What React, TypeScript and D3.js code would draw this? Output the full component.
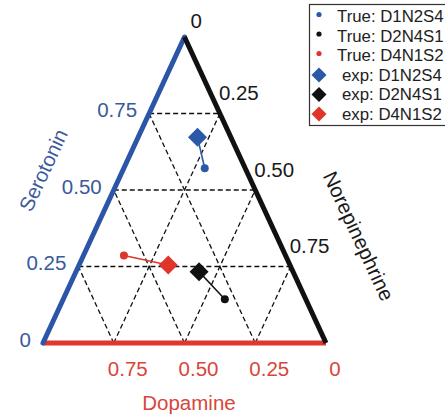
import React from "react";
import * as d3 from "d3";

// ---------- data ----------
const seriesNames = ["D1N2S4", "D2N4S1", "D4N1S2"];
const seriesColors = ["#2b59a8", "#111111", "#e0352b"];
// true compositions (serotonin, norepinephrine); dopamine = 1 - S - N
const trueS = [0.571, 0.143, 0.286];
const trueN = [0.286, 0.571, 0.143];
// experimental estimates
const expS = [0.672, 0.233, 0.255];
const expN = [0.21, 0.435, 0.315];

const gridValues = [0.25, 0.5, 0.75];
const sTicks = [0.75, 0.5, 0.25, 0];
const sTickLabels = ["0.75", "0.50", "0.25", "0"];
const nTicks = [0, 0.25, 0.5, 0.75];
const nTickLabels = ["0", "0.25", "0.50", "0.75"];
const dTicks = [0.75, 0.5, 0.25, 0];
const dTickLabels = ["0.75", "0.50", "0.25", "0"];

const FONT = "'Liberation Sans', Arial, Helvetica, sans-serif";

export default function App() {
  const W = 445, H = 414;
  // scales: vertical for serotonin, horizontal for (N + S/2)
  const yS = d3.scaleLinear().domain([0, 1]).range([343, 37]);
  const xB = d3.scaleLinear().domain([0, 1]).range([43, 326]);
  const px = (s: number, n: number) => xB(n + s / 2);
  const py = (s: number) => yS(s);

  const blue = "#2b55a6";
  const blueText = "#3a5a9c";
  const red = "#e0362c";
  const redText = "#d8463a";
  const FS = 20.5;

  const grid: { x1: number; y1: number; x2: number; y2: number }[] = [];
  gridValues.forEach((v) => {
    grid.push({ x1: px(v, 0), y1: py(v), x2: px(v, 1 - v), y2: py(v) });
    grid.push({ x1: px(0, v), y1: py(0), x2: px(1 - v, v), y2: py(1 - v) });
    grid.push({ x1: px(0, 1 - v), y1: py(0), x2: px(1 - v, 0), y2: py(1 - v) });
  });

  const diamond = (cx: number, cy: number, r: number) =>
    `M${cx},${cy - r}L${cx + r},${cy}L${cx},${cy + r}L${cx - r},${cy}Z`;

  const legendRows = [
    ...seriesNames.map((n, i) => ({ kind: "dot", label: `True: ${n}`, color: seriesColors[i] })),
    ...seriesNames.map((n, i) => ({ kind: "dia", label: `exp: ${n}`, color: seriesColors[i] })),
  ];

  return (
    <svg
      width={W}
      height={H}
      style={{ position: "absolute", left: 0, top: 0, background: "#fff" }}
      fontFamily={FONT}
    >
      <rect x={0} y={0} width={W} height={H} fill="#fff" />
      {grid.map((g, i) => (
        <line key={i} {...g} stroke="#111" strokeWidth={1.3} strokeDasharray="5,3" />
      ))}
      <line x1={px(0, 0)} y1={py(0)} x2={px(0, 1)} y2={py(0)} stroke={red} strokeWidth={5} />
      <line x1={px(0, 0)} y1={py(0)} x2={px(1, 0)} y2={py(1)} stroke={blue} strokeWidth={5} strokeLinecap="round" />
      <line x1={px(1, 0)} y1={py(1)} x2={px(0, 1)} y2={py(0)} stroke="#111" strokeWidth={5} />

      {sTicks.map((s, i) => (
        <text
          key={"s" + i}
          x={px(s, 0) - 12}
          y={py(s) - 4}
          textAnchor="end"
          dominantBaseline="central"
          fontSize={FS}
          fill={blueText}
        >
          {sTickLabels[i]}
        </text>
      ))}
      {nTicks.map((n, i) => (
        <text
          key={"n" + i}
          x={px(1 - n, n) + (i === 0 ? 6 : -1)}
          y={py(1 - n) - (i === 0 ? 17 : 21)}
          textAnchor="start"
          dominantBaseline="central"
          fontSize={FS}
          fill="#1a1a1a"
        >
          {nTickLabels[i]}
        </text>
      ))}
      {dTicks.map((d, i) => (
        <text
          key={"d" + i}
          x={px(0, 1 - d) + (i === 3 ? 9 : 14)}
          y={368}
          textAnchor="middle"
          dominantBaseline="central"
          fontSize={FS}
          fill={redText}
        >
          {dTickLabels[i]}
        </text>
      ))}

      <text
        x={0}
        y={0}
        transform={`translate(43,170) rotate(-65)`}
        textAnchor="middle"
        dominantBaseline="central"
        fontSize={FS}
        fill={blueText}
      >
        Serotonin
      </text>
      <text
        x={0}
        y={0}
        transform={`translate(359,236) rotate(65)`}
        textAnchor="middle"
        dominantBaseline="central"
        fontSize={FS}
        fill="#1a1a1a"
      >
        Norepinephrine
      </text>
      <text x={189} y={402} textAnchor="middle" dominantBaseline="central" fontSize={FS} fill={redText}>
        Dopamine
      </text>

      {seriesNames.map((_, i) => (
        <line
          key={"c" + i}
          x1={px(trueS[i], trueN[i])}
          y1={py(trueS[i])}
          x2={px(expS[i], expN[i])}
          y2={py(expS[i])}
          stroke={seriesColors[i]}
          strokeWidth={1.6}
        />
      ))}
      {seriesNames.map((_, i) => (
        <circle
          key={"t" + i}
          cx={px(trueS[i], trueN[i])}
          cy={py(trueS[i])}
          r={4}
          fill={seriesColors[i]}
        />
      ))}
      {seriesNames.map((_, i) => (
        <path
          key={"e" + i}
          d={diamond(px(expS[i], expN[i]), py(expS[i]), 9.5)}
          fill={seriesColors[i]}
        />
      ))}

      <rect x={309.5} y={4.5} width={150} height={121} fill="#fff" stroke="#333" strokeWidth={1.2} />
      {legendRows.map((r, i) => {
        const cy = 16.5 + i * 19.5;
        return (
          <g key={"l" + i}>
            {r.kind === "dot" ? (
              <circle cx={319} cy={cy - 2} r={2.6} fill={r.color} />
            ) : (
              <path d={diamond(319, cy, 7.5)} fill={r.color} />
            )}
            <text
              x={r.kind === "dot" ? 337 : 342}
              y={cy}
              dominantBaseline="central"
              fontSize={16.8}
              fill="#222"
            >
              {r.label}
            </text>
          </g>
        );
      })}
    </svg>
  );
}
